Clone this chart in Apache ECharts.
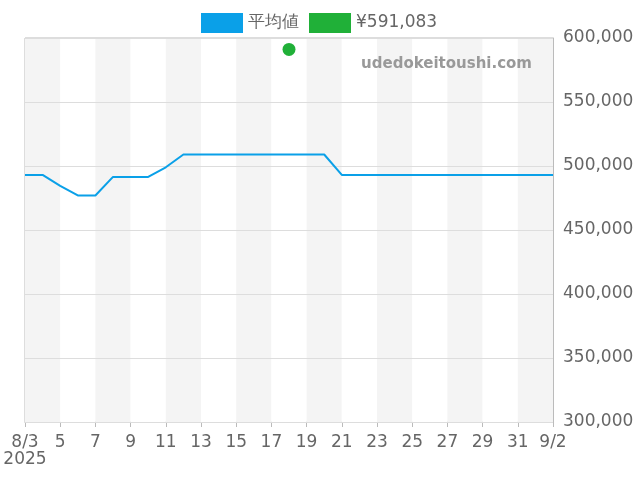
<!DOCTYPE html><html><head><meta charset="utf-8"><script src="https://cdn.jsdelivr.net/npm/echarts@6/dist/echarts.min.js"></script></head><body style="margin:0"><div id="c" style="width:640px;height:480px"></div><script>
const days=['8/3','8/4','8/5','8/6','8/7','8/8','8/9','8/10','8/11','8/12','8/13','8/14','8/15','8/16','8/17','8/18','8/19','8/20','8/21','8/22','8/23','8/24','8/25','8/26','8/27','8/28','8/29','8/30','8/31','9/1','9/2'];
const avg=[493000,493000,484500,477000,477000,491500,491500,491500,499000,509000,509000,509000,509000,509000,509000,509000,509000,509000,493000,493000,493000,493000,493000,493000,493000,493000,493000,493000,493000,493000,493000];
const point=days.map((d,i)=>i===15?591083:null);
const F='"DejaVu Sans", sans-serif';
const c=echarts.init(document.getElementById('c'));
c.setOption({animation:false,textStyle:{fontFamily:F},
legend:{top:8,left:196,icon:'rect',itemWidth:42,itemHeight:20,itemGap:10,textStyle:{fontSize:17,color:'#666',fontFamily:F},data:['平均値','¥591,083']},
graphic:[{type:'text',z:100,right:108,top:57,style:{text:'udedokeitoushi.com',fill:'#999',font:'bold 15px "DejaVu Sans"'}}],
grid:{left:25,right:87,top:38,bottom:58,show:true,borderColor:'#bbb',borderWidth:1,backgroundColor:'transparent'},
xAxis:{type:'category',data:days,boundaryGap:false,z:0,
axisLine:{lineStyle:{color:'#bbb'}},axisTick:{show:true,interval:1,lineStyle:{color:'#bbb'}},
axisLabel:{interval:1,fontSize:17,margin:12,color:'#666',fontFamily:F,formatter:(v,i)=>i===0?'8/3\n2025':(v.startsWith('8/')&&i>0?v.slice(2):v)},
splitLine:{show:false},splitArea:{show:true,interval:1,areaStyle:{color:['#f4f4f4','#fff']}}},
yAxis:{type:'value',position:'right',min:300000,max:600000,interval:50000,z:2,
axisLine:{show:true,lineStyle:{color:'#bbb'}},axisLabel:{fontSize:17,margin:10,padding:[4,0,0,0],color:'#666',fontFamily:F,formatter:v=>v.toLocaleString('en-US')},splitLine:{lineStyle:{color:'#ddd'}}},
series:[{name:'平均値',type:'line',z:5,data:avg,showSymbol:false,lineStyle:{color:'#0aa0e8',width:2},itemStyle:{color:'#0aa0e8'}},
{name:'¥591,083',type:'scatter',z:6,data:point,symbolSize:13,itemStyle:{color:'#20b038',opacity:1}}]});
</script></body></html>
